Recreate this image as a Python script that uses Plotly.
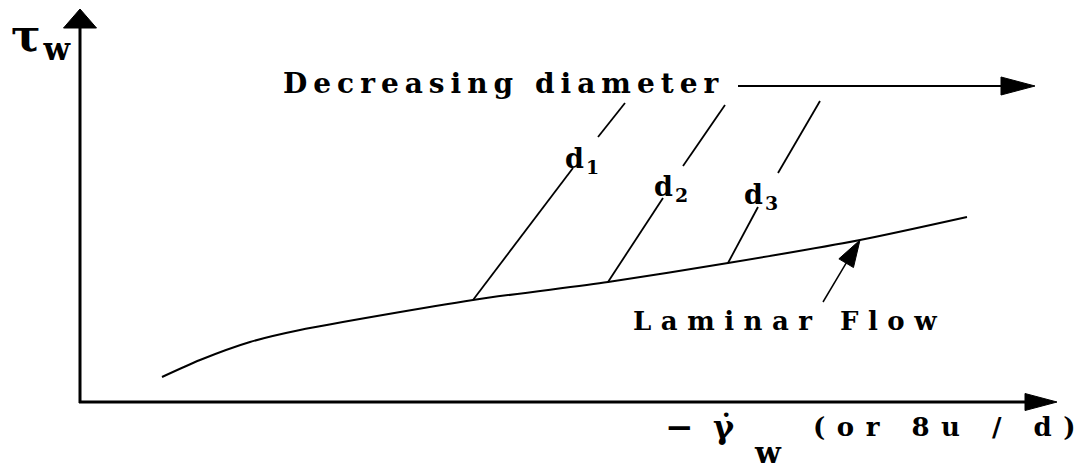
import math
import plotly.graph_objects as go

# ---------------- data (schematic units: shear rate on x, wall stress on y) ----------
laminar_x = [0.82, 1.20, 1.70, 2.20, 3.93, 5.28, 6.48, 7.80, 8.87]
laminar_y = [0.25, 0.42, 0.60, 0.72, 1.02, 1.20, 1.39, 1.62, 1.85]

# turbulent branches for three diameters: start on laminar line, gap for label, end
d1_x = [3.93, 4.93, None, 5.18, 5.45]
d1_y = [1.02, 2.34, None, 2.65, 2.99]
d2_x = [5.28, 5.83, None, 6.03, 6.45]
d2_y = [1.20, 2.04, None, 2.36, 2.97]
d3_x = [6.48, 6.78, None, 6.98, 7.40]
d3_y = [1.39, 1.95, None, 2.29, 3.01]

d_labels = ["d<sub>1</sub>", "d<sub>2</sub>", "d<sub>3</sub>"]
d_label_x = [5.03, 5.92, 6.82]
d_label_y = [2.42, 2.14, 2.06]

# axes & pointer arrows (tail, tip)
x_axis_tail, x_axis_tip = (-0.01, 0.0), (9.77, 0.0)
y_axis_tail, y_axis_tip = (0.0, -0.01), (0.0, 3.93)
diam_tail, diam_tip = (6.58, 3.16), (9.55, 3.16)
lam_tail, lam_tip = (7.43, 1.00), (7.80, 1.62)

fig = go.Figure()

def line(xs, ys, w):
    fig.add_trace(go.Scatter(x=xs, y=ys, mode="lines", line=dict(color="black", width=w),
                             hoverinfo="skip", showlegend=False))

def arrow(tail, tip, w, head_len, head_half):
    dx, dy = tip[0] - tail[0], tip[1] - tail[1]
    n = math.hypot(dx, dy)
    ux, uy = dx / n, dy / n
    bx, by = tip[0] - ux * head_len, tip[1] - uy * head_len
    line([tail[0], bx + ux * 0.02], [tail[1], by + uy * 0.02], w)
    px, py = -uy * head_half, ux * head_half
    fig.add_trace(go.Scatter(x=[tip[0], bx + px, bx - px, tip[0]],
                             y=[tip[1], by + py, by - py, tip[1]],
                             mode="lines", fill="toself", fillcolor="black",
                             line=dict(color="black", width=1),
                             hoverinfo="skip", showlegend=False))

# laminar curve
fig.add_trace(go.Scatter(x=laminar_x, y=laminar_y, mode="lines",
                         line=dict(color="black", width=2, shape="spline", smoothing=0.7),
                         hoverinfo="skip", showlegend=False))
for xs, ys in [(d1_x, d1_y), (d2_x, d2_y), (d3_x, d3_y)]:
    line(xs, ys, 1.8)

arrow(x_axis_tail, x_axis_tip, 3, 0.32, 0.085)
arrow(y_axis_tail, y_axis_tip, 3, 0.19, 0.165)
arrow(diam_tail, diam_tip, 2, 0.34, 0.09)
arrow(lam_tail, lam_tip, 1.5, 0.27, 0.085)

FONT = "DejaVu Serif, Liberation Serif, serif"

def text(x, y, s, size, spacing, anchor="left", tail=""):
    # letter spacing on the body only, so no trailing gap after the last glyph
    fig.add_annotation(x=x, y=y, xref="x", yref="y", showarrow=False, xanchor=anchor,
                       yanchor="middle",
                       text=f'<b><span style="letter-spacing:{spacing}px">{s}</span>{tail}</b>',
                       font=dict(family=FONT, size=size, color="black"))

text(2.01, 3.19, "Decreasing diamete", 28, 6, tail="r")
text(5.51, 0.81, "Laminar Flo", 26, 9.5, tail="w")
for s, lx, ly in zip(d_labels, d_label_x, d_label_y):
    text(lx, ly, s, 27, 2, "center")
text(-0.71, 3.64, "τ", 44, 3, tail="<sub>w</sub>")
text(5.83, -0.25, "−", 34, 0)
text(6.31, -0.25, "γ\u0307", 32, 0)
text(6.72, -0.50, "w", 30, 0)
text(7.31, -0.25, "(or 8u / d", 26, 11.5, tail=")")

# page is offset by the 8px body margin: shrink canvas and shift ranges accordingly
fig.update_layout(
    width=1081, height=462,
    margin=dict(l=0, r=0, t=0, b=0),
    paper_bgcolor="white", plot_bgcolor="white",
    xaxis=dict(range=[-0.72, 10.09], visible=False, fixedrange=True),
    yaxis=dict(range=[-0.68, 3.94], visible=False, fixedrange=True),
    showlegend=False,
)

fig.write_html("out.html")
